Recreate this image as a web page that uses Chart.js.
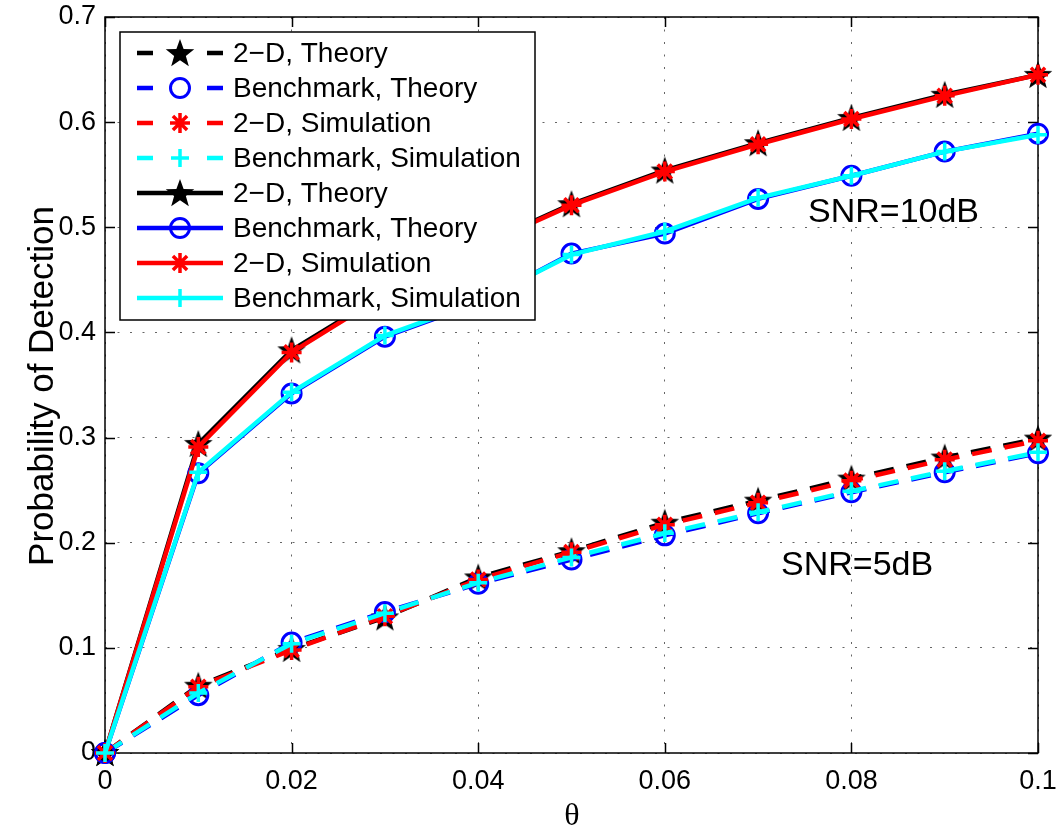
<!DOCTYPE html>
<html>
<head>
<meta charset="utf-8">
<title>Probability of Detection vs theta</title>
<script src="https://cdn.jsdelivr.net/npm/chart.js@4.4.1/dist/chart.umd.min.js"></script>
<style>
  html, body { margin: 0; padding: 0; background: #fff; }
  #wrap { width: 1059px; height: 832px; }
</style>
</head>
<body>
<div id="wrap"><canvas id="pdChart" width="1059" height="832"></canvas></div>
<script>
// theta values on the x axis
const theta = [0, 0.01, 0.02, 0.03, 0.04, 0.05, 0.06, 0.07, 0.08, 0.09, 0.1];
const xTicks = [0, 0.02, 0.04, 0.06, 0.08, 0.1];
const yTicks = [0, 0.1, 0.2, 0.3, 0.4, 0.5, 0.6, 0.7];

// SNR = 5dB (dashed)
const twoDTheory5 = [0, 0.064, 0.099, 0.129, 0.167, 0.192, 0.219, 0.240, 0.261, 0.281, 0.299];
const benchTheory5 = [0, 0.055, 0.105, 0.134, 0.161, 0.184, 0.207, 0.228, 0.248, 0.267, 0.285];
const twoDSim5 = [0, 0.063, 0.098, 0.130, 0.165, 0.191, 0.217, 0.238, 0.259, 0.279, 0.297];
const benchSim5 = [0, 0.057, 0.104, 0.133, 0.162, 0.186, 0.209, 0.229, 0.249, 0.268, 0.286];

// SNR = 10dB (solid)
const twoDTheory10 = [0, 0.294, 0.383, 0.437, 0.482, 0.522, 0.554, 0.580, 0.604, 0.626, 0.645];
const benchTheory10 = [0, 0.266, 0.342, 0.396, 0.428, 0.475, 0.494, 0.527, 0.549, 0.572, 0.589];
const twoDSim10 = [0, 0.291, 0.381, 0.436, 0.481, 0.521, 0.553, 0.579, 0.603, 0.625, 0.645];
const benchSim10 = [0, 0.267, 0.343, 0.397, 0.429, 0.474, 0.496, 0.528, 0.549, 0.572, 0.588];

const labels = [
  "2\u2212D, Theory", "Benchmark, Theory", "2\u2212D, Simulation", "Benchmark, Simulation",
  "2\u2212D, Theory", "Benchmark, Theory", "2\u2212D, Simulation", "Benchmark, Simulation"
];

const SANS = "'Liberation Sans', Arial, Helvetica, sans-serif";
const DASH = [20, 13];

// filled five-point star marker (MATLAB style pentagram)
function makePentagram(r, color) {
  const c = document.createElement("canvas");
  const size = Math.ceil(r * 2 + 2);
  c.width = size;
  c.height = size;
  const g = c.getContext("2d");
  const cx = size / 2, cy = size / 2 + 1;
  const inner = r * 0.41;
  g.beginPath();
  for (let i = 0; i < 10; i++) {
    const rad = i % 2 === 0 ? r : inner;
    const a = -Math.PI / 2 + i * Math.PI / 5;
    const px = cx + rad * Math.cos(a);
    const py = cy + rad * Math.sin(a);
    if (i === 0) g.moveTo(px, py); else g.lineTo(px, py);
  }
  g.closePath();
  g.fillStyle = color;
  g.fill();
  return c;
}

const starImg = makePentagram(15, "#000");

const styles = {
  twoDTheory: { color: "#000000", pointStyle: starImg, radius: 15, borderWidth: 1, fill: "#000" },
  benchTheory: { color: "#0000ff", pointStyle: "circle", radius: 9.5, borderWidth: 3, fill: "rgba(0,0,0,0)" },
  twoDSim: { color: "#ff0000", pointStyle: "star", radius: 10, borderWidth: 3.5, fill: "rgba(0,0,0,0)" },
  benchSim: { color: "#00ffff", pointStyle: "cross", radius: 9, borderWidth: 3.5, fill: "rgba(0,0,0,0)" }
};

function series(values, style, dashed, idx) {
  return {
    label: labels[idx],
    data: values.map((v, i) => ({ x: theta[i], y: v })),
    borderColor: style.color,
    backgroundColor: style.fill,
    borderWidth: 4.5,
    borderDash: dashed ? DASH : [],
    pointStyle: style.pointStyle,
    pointRadius: style.radius,
    pointBorderWidth: style.borderWidth,
    pointBorderColor: style.color,
    pointBackgroundColor: style.fill,
    tension: 0,
    clip: false,
    // later series are drawn on top
    order: 8 - idx
  };
}

const datasets = [
  series(twoDTheory5, styles.twoDTheory, true, 0),
  series(benchTheory5, styles.benchTheory, true, 1),
  series(twoDSim5, styles.twoDSim, true, 2),
  series(benchSim5, styles.benchSim, true, 3),
  series(twoDTheory10, styles.twoDTheory, false, 4),
  series(benchTheory10, styles.benchTheory, false, 5),
  series(twoDSim10, styles.twoDSim, false, 6),
  series(benchSim10, styles.benchSim, false, 7)
];

function fmt(v) {
  return String(+Number(v).toFixed(2));
}

// axes box with inward tick marks
const framePlugin = {
  id: "frame",
  beforeDatasetsDraw(chart) {
    const { ctx, chartArea: a, scales } = chart;
    const tl = 10;
    ctx.save();
    ctx.strokeStyle = "#000";
    ctx.lineWidth = 1.5;
    ctx.setLineDash([]);
    ctx.beginPath();
    xTicks.forEach(v => {
      const px = Math.round(scales.x.getPixelForValue(v)) + 0.5;
      ctx.moveTo(px, a.bottom); ctx.lineTo(px, a.bottom - tl);
      ctx.moveTo(px, a.top); ctx.lineTo(px, a.top + tl);
    });
    yTicks.forEach(v => {
      const py = Math.round(scales.y.getPixelForValue(v)) + 0.5;
      ctx.moveTo(a.left, py); ctx.lineTo(a.left + tl, py);
      ctx.moveTo(a.right, py); ctx.lineTo(a.right - tl, py);
    });
    ctx.stroke();
    ctx.strokeRect(a.left, a.top, a.right - a.left, a.bottom - a.top);
    ctx.restore();
  }
};

// legend box, axis titles and SNR notes
const overlayPlugin = {
  id: "overlay",
  afterDraw(chart) {
    const { ctx } = chart;
    ctx.save();

    // legend
    const bx = 120, by = 32, bw = 415, bh = 288;
    ctx.fillStyle = "#fff";
    ctx.fillRect(bx, by, bw, bh);
    ctx.strokeStyle = "#000";
    ctx.lineWidth = 1.5;
    ctx.strokeRect(bx, by, bw, bh);

    const rowY = 53, rowH = 35;
    const lx0 = 137, lx1 = 223, mx = 180, tx = 233;
    chart.data.datasets.forEach((ds, i) => {
      const y = rowY + i * rowH;
      ctx.save();
      ctx.strokeStyle = ds.borderColor;
      ctx.lineWidth = ds.borderWidth;
      ctx.setLineDash(ds.borderDash.length ? [16, 54] : []);
      ctx.beginPath();
      ctx.moveTo(lx0, y);
      ctx.lineTo(lx1, y);
      ctx.stroke();
      ctx.setLineDash([]);
      ctx.strokeStyle = ds.pointBorderColor;
      ctx.fillStyle = ds.pointBackgroundColor;
      ctx.lineWidth = ds.pointBorderWidth;
      Chart.helpers.drawPoint(ctx, {
        pointStyle: ds.pointStyle,
        radius: ds.pointRadius,
        rotation: 0,
        borderWidth: ds.pointBorderWidth
      }, mx, y);
      ctx.restore();

      ctx.fillStyle = "#000";
      ctx.font = "28px " + SANS;
      ctx.textBaseline = "middle";
      ctx.textAlign = "left";
      ctx.fillText(ds.label, tx, y + 1);
    });

    // y title
    ctx.fillStyle = "#000";
    ctx.save();
    ctx.translate(53, 386);
    ctx.rotate(-Math.PI / 2);
    ctx.font = "35px " + SANS;
    ctx.textAlign = "center";
    ctx.textBaseline = "alphabetic";
    ctx.fillText("Probability of Detection", 0, 0);
    ctx.restore();

    // x title
    ctx.font = "32px 'Liberation Serif', 'Times New Roman', serif";
    ctx.textAlign = "center";
    ctx.textBaseline = "alphabetic";
    ctx.fillText("\u03b8", 572, 825);

    // SNR notes
    ctx.font = "34px " + SANS;
    ctx.textAlign = "left";
    ctx.fillText("SNR=10dB", 808, 222);
    ctx.fillText("SNR=5dB", 781, 575);

    ctx.restore();
  }
};

new Chart(document.getElementById("pdChart"), {
  type: "line",
  data: { datasets },
  plugins: [framePlugin, overlayPlugin],
  options: {
    responsive: false,
    animation: false,
    events: [],
    layout: { padding: { top: 17, right: 21, left: 0, bottom: 0 } },
    plugins: {
      legend: { display: false },
      tooltip: { enabled: false },
      title: { display: false }
    },
    scales: {
      x: {
        type: "linear",
        min: 0,
        max: 0.1,
        afterBuildTicks: s => { s.ticks = xTicks.map(v => ({ value: v })); },
        afterFit: s => { s.height = 79; s.paddingLeft = 0; s.paddingRight = 0; },
        grid: { color: "#666", lineWidth: 1, drawTicks: false },
        border: { display: false, dash: [2, 10.5] },
        ticks: {
          color: "#000",
          padding: 12,
          maxRotation: 0,
          font: { size: 27, family: SANS },
          callback: v => fmt(v)
        }
      },
      y: {
        type: "linear",
        min: 0,
        max: 0.7,
        afterBuildTicks: s => { s.ticks = yTicks.map(v => ({ value: v })); },
        afterFit: s => { s.width = 105; s.paddingTop = 0; s.paddingBottom = 0; },
        grid: { color: "#666", lineWidth: 1, drawTicks: false },
        border: { display: false, dash: [2, 10.5] },
        ticks: {
          color: "#000",
          padding: 9,
          font: { size: 27, family: SANS },
          callback: v => fmt(v)
        }
      }
    }
  }
});
</script>
</body>
</html>
